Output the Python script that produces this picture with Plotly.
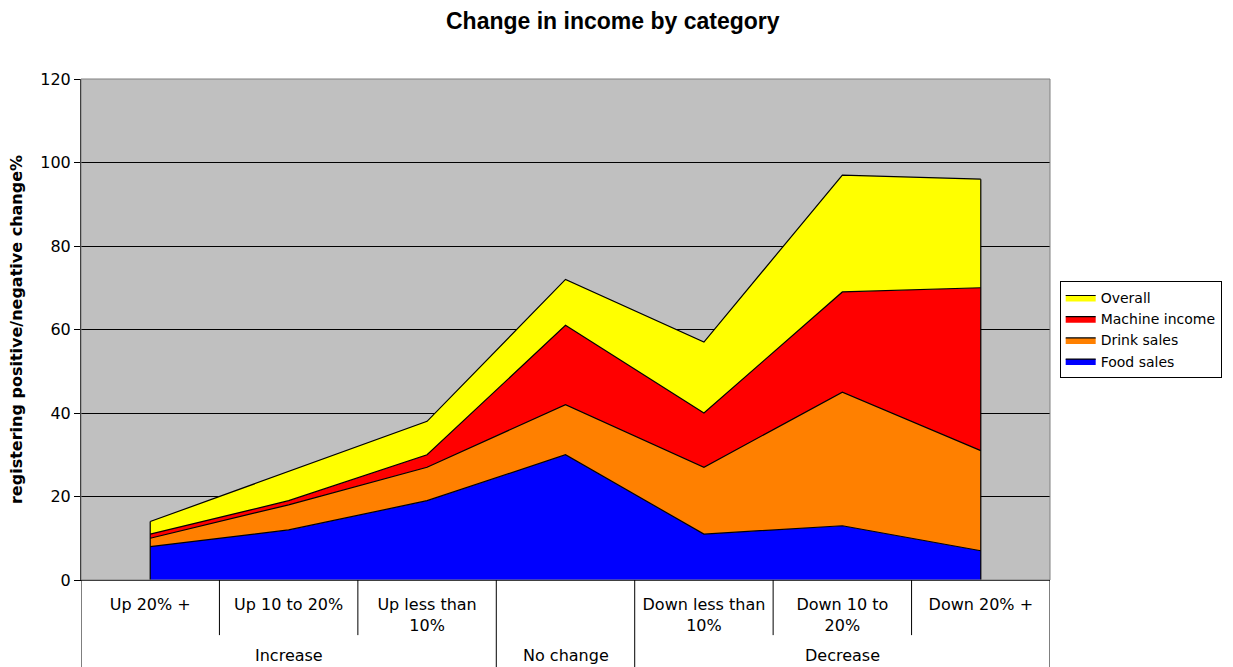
import plotly.graph_objects as go

# data, stacked areas (values per layer)
categories = ['Up 20% +', 'Up 10 to 20%', 'Up less than<br>10%', '',
              'Down less than<br>10%', 'Down 10 to<br>20%', 'Down 20% +']
groups = ['Increase', 'No change', 'Decrease']
group_sizes = [3, 1, 3]

food_sales = [8, 12, 19, 30, 11, 13, 7]
drink_sales = [2, 6, 8, 12, 16, 32, 24]
machine_income = [1, 1, 3, 19, 13, 24, 39]
overall = [3, 7, 8, 11, 17, 28, 26]

series = [
    ('Food sales', food_sales, '#0000FF'),
    ('Drink sales', drink_sales, '#FF8000'),
    ('Machine income', machine_income, '#FF0000'),
    ('Overall', overall, '#FFFF00'),
]

x = list(range(len(categories)))

fig = go.Figure()
for name, vals, col in series:
    fig.add_trace(go.Scatter(
        x=x, y=vals, name=name, stackgroup='one', mode='lines',
        line=dict(color='black', width=1.2),
        fillcolor=col,
    ))

# vertical edges at both ends of the stack
totals = [sum(v) for v in zip(food_sales, drink_sales, machine_income, overall)]
for i in (0, len(x) - 1):
    fig.add_trace(go.Scatter(
        x=[x[i], x[i]], y=[0, totals[i]], mode='lines',
        line=dict(color='black', width=1.2), showlegend=False, hoverinfo='skip'))

shapes = []
# plot border
shapes.append(dict(type='rect', xref='paper', yref='paper', x0=0, x1=1, y0=0, y1=1,
                   line=dict(color='#808080', width=1)))
# category dividers
start = 0
bounds = [-0.5]
for g in group_sizes:
    start += g
    bounds.append(start - 0.5)
for b in range(len(categories) + 1):
    xb = b - 0.5
    full = xb in bounds
    shapes.append(dict(type='line', xref='x', yref='paper', x0=xb, x1=xb,
                       y0=0, y1=-0.18 if full else -0.11,
                       line=dict(color='black', width=1)))

annotations = []
start = 0
for g, n in zip(groups, group_sizes):
    annotations.append(dict(xref='x', yref='paper', x=start + (n - 1) / 2, y=-0.151,
                            text=g, showarrow=False, yanchor='middle',
                            font=dict(family='DejaVu Sans', size=16, color='black')))
    start += n

fig.update_layout(
    title=dict(text='<b>Change in income by category</b>', x=0.497, xref='container',
               y=0.968, yanchor='middle',
               font=dict(family='Liberation Sans', size=23, color='black')),
    width=1233, height=667,
    margin=dict(l=81, r=183, t=79, b=87, autoexpand=False),
    paper_bgcolor='white',
    plot_bgcolor='#C0C0C0',
    font=dict(family='DejaVu Sans', size=16, color='black'),
    xaxis=dict(range=[-0.5, 6.5], tickvals=x, ticktext=categories,
               showgrid=False, zeroline=False, showline=True, linecolor='black',
               linewidth=1, ticks='', tickfont=dict(size=16), ticklabelstandoff=10),
    yaxis=dict(range=[0, 120], dtick=20, showgrid=True, gridcolor='black', gridwidth=1,
               zeroline=False, showline=True, linecolor='black', linewidth=1,
               ticks='outside', ticklen=6, tickcolor='black',
               title=dict(text='<b>registering positive/negative change%</b>',
                          font=dict(family='DejaVu Sans', size=16), standoff=13)),
    legend=dict(x=1.01, y=0.597, xanchor='left', yanchor='top',
                traceorder='reversed', bordercolor='black', borderwidth=1,
                bgcolor='white', font=dict(size=14), tracegroupgap=0,
                itemwidth=30),
    shapes=shapes,
    annotations=annotations,
)

fig.write_html('out.html', config={'displayModeBar': False},
               post_script="document.body.style.margin='0';")
